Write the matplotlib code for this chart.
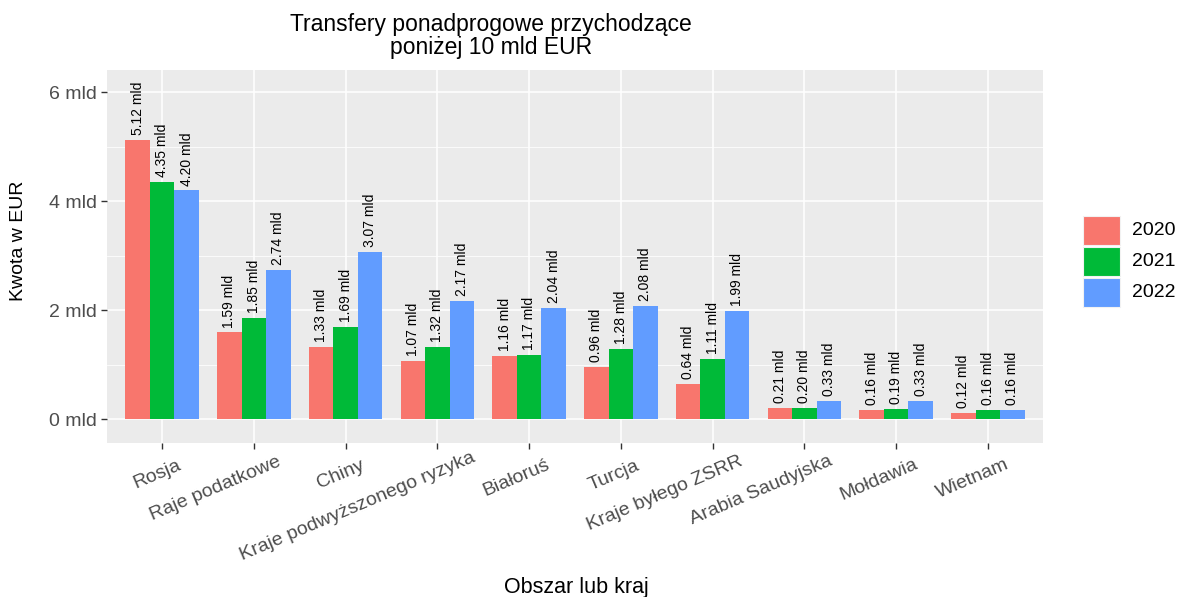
import matplotlib
matplotlib.use("Agg")
import matplotlib.pyplot as plt
import numpy as np
from matplotlib.patches import Rectangle
from matplotlib.ticker import MultipleLocator

categories = ["Rosja", "Raje podatkowe", "Chiny", "Kraje podwyższonego ryzyka",
              "Białoruś", "Turcja", "Kraje byłego ZSRR", "Arabia Saudyjska",
              "Mołdawia", "Wietnam"]
years = ["2020", "2021", "2022"]
v2020 = [5.12, 1.59, 1.33, 1.07, 1.16, 0.96, 0.64, 0.21, 0.16, 0.12]
v2021 = [4.35, 1.85, 1.69, 1.32, 1.17, 1.28, 1.11, 0.20, 0.19, 0.16]
v2022 = [4.20, 2.74, 3.07, 2.17, 2.04, 2.08, 1.99, 0.33, 0.33, 0.16]
yticks = [0, 2, 4, 6]
colors = ["#F8766D", "#00BA38", "#619CFF"]

FONT = "Liberation Sans"
plt.rcParams["font.family"] = [FONT, "DejaVu Sans"]

W, H = 1185, 597
fig = plt.figure(figsize=(W / 100, H / 100), dpi=100)
ax = fig.add_axes([107 / W, (H - 443) / H, (1043 - 107) / W, (443 - 69.5) / H])
ax.set_facecolor("#EBEBEB")
for s in ax.spines.values():
    s.set_visible(False)

x = np.arange(len(categories))
bw = 0.8 / 3
series = [v2020, v2021, v2022]
for j, (vals, c) in enumerate(zip(series, colors)):
    xs = x + (j - 1) * bw
    ax.bar(xs, vals, width=bw, color=c, zorder=3, linewidth=0)
    for xi, v in zip(xs, vals):
        ax.annotate(f"{v:.2f} mld", xy=(xi, v), xytext=(0, 3.5),
                    textcoords="offset points", rotation=90, ha="center",
                    va="bottom", fontsize=10, color="black", zorder=4)

ax.set_xlim(-0.6, len(categories) - 0.4)
ax.set_ylim(-0.44, 6.42)
ax.set_yticks(yticks)
ax.set_yticklabels([f"{t} mld" for t in yticks])
ax.yaxis.set_minor_locator(MultipleLocator(1))
ax.set_xticks(x)
ax.set_xticklabels([])
ax.grid(which="major", color="white", linewidth=1.1, zorder=0)
ax.grid(which="minor", axis="y", color="white", linewidth=0.55, zorder=0)
ax.set_axisbelow(True)
ax.tick_params(axis="both", which="major", length=4, width=1, color="#333333",
               labelsize=14, labelcolor="#4D4D4D", pad=3)
ax.tick_params(axis="y", which="minor", length=0)

# rotated x tick labels (ggplot-like fractional justification)
XFS = 14
ROT = 23
fig.canvas.draw()
r = fig.canvas.get_renderer()
h = 0.9
ang = np.radians(ROT)
for i, lab in enumerate(categories):
    t = ax.text(0, 0, lab, fontsize=XFS)
    L = t.get_window_extent(r).width
    t.remove()
    dx = 10 - h * L * np.cos(ang)
    dy = -16 - h * L * np.sin(ang)
    ax.annotate(lab, xy=(i, 0), xycoords=ax.get_xaxis_transform(),
                xytext=(dx * 0.72, dy * 0.72), textcoords="offset points",
                ha="left", va="top", rotation=ROT, rotation_mode="anchor",
                fontsize=XFS, color="#4D4D4D", annotation_clip=False)

fig.text(491 / W, 1 - 13 / H, "Transfery ponadprogowe przychodzące\nponiżej 10 mld EUR",
         ha="center", va="top", fontsize=16.5, linespacing=1.0, color="black")
fig.text(19 / W, 1 - 241 / H, "Kwota w EUR", rotation=90, ha="center", va="center",
         fontsize=14, color="black")
fig.text(576 / W, 1 - 587 / H, "Obszar lub kraj", ha="center", va="center",
         fontsize=15.5, color="black")

# legend (ggplot-style, no title)
rows = [(216, 245), (247, 276), (278, 307)]
for (y0, y1), c, lab in zip(rows, colors, years):
    fig.patches.append(Rectangle((1083 / W, 1 - y1 / H), (1120 - 1083) / W, (y1 - y0) / H,
                                 transform=fig.transFigure, facecolor=c,
                                 edgecolor="#F2F2F2", linewidth=0.8))
    fig.text(1132 / W, 1 - (y0 + y1) / 2 / H, lab, ha="left", va="center",
             fontsize=14, color="black")

fig.savefig("out.png", dpi=100, facecolor="white")
